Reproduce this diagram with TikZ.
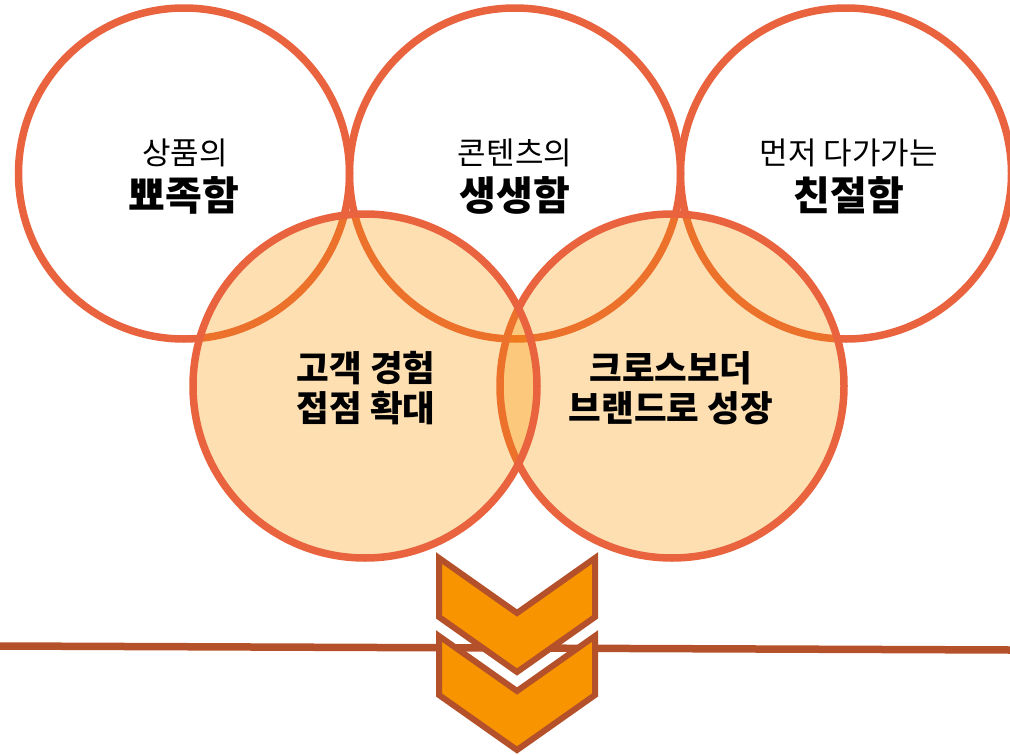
\documentclass[tikz,border=0pt]{standalone}
\usepackage{fontspec}
\setmainfont{Noto Sans CJK KR}
\definecolor{ringc}{HTML}{E8633E}
\definecolor{brownc}{HTML}{B5512A}
\definecolor{chevc}{HTML}{F79400}
\begin{document}
\begin{tikzpicture}[x=1pt,y=-1pt,
  topring/.style={circle, draw=ringc, line width=7.5pt, minimum size=331pt, inner sep=0pt},
  lowring/.style={circle, draw=ringc, line width=7.5pt, fill=chevc, fill opacity=0.3, draw opacity=1, minimum size=344pt, inner sep=0pt},
  chevron/.style={draw=brownc, fill=chevc, line width=6pt, line join=miter},
  baseline/.style={draw=brownc, line width=7.5pt},
  smalltext/.style={anchor=base, inner sep=0pt, font=\fontsize{31}{37}\selectfont},
  bigtext/.style={anchor=base, inner sep=0pt, font=\bfseries\fontsize{40}{48}\selectfont},
  lowtext/.style={anchor=base, inner sep=0pt, font=\bfseries\fontsize{35.5}{42}\selectfont}]
\useasboundingbox (0,0) rectangle (1010,755);
\begin{scope}
\clip (0,0) rectangle (1010,755);
% top circles
\node[topring] (c1) at (184,173.5) {};
\node[topring] (c2) at (515,173.5) {};
\node[topring] (c3) at (846,173.5) {};
% lower circles
\node[lowring] (c5) at (672,386) {};
\node[lowring] (c4) at (365,386) {};
% texts
\node[smalltext] (t1a) at (185,164) {상품의};
\node[bigtext]   (t1b) at (184,210) {뾰족함};
\node[smalltext] (t2a) at (515,164) {콘텐츠의};
\node[bigtext]   (t2b) at (515,210) {생생함};
\node[smalltext] (t3a) at (849,164) {먼저 다가가는};
\node[bigtext]   (t3b) at (849,210) {친절함};
\node[lowtext] (t4a) at (366,381) {고객 경험};
\node[lowtext] (t4b) at (366,421.5) {접점 확대};
\node[lowtext] (t5a) at (671,381) {크로스보더};
\node[lowtext] (t5b) at (671,421.5) {브랜드로 성장};
% horizontal line
\coordinate (lineL) at (0,646);
\coordinate (lineR) at (1010,650);
\draw[baseline] (lineL) -- (lineR);
% chevrons
\draw[chevron] (439,558) -- (517,613) -- (595,558) -- (595,617) -- (517,672) -- (439,617) -- cycle;
\draw[chevron] (439,636) -- (517,691) -- (595,636) -- (595,695) -- (517,750) -- (439,695) -- cycle;
\end{scope}
\end{tikzpicture}
\end{document}
